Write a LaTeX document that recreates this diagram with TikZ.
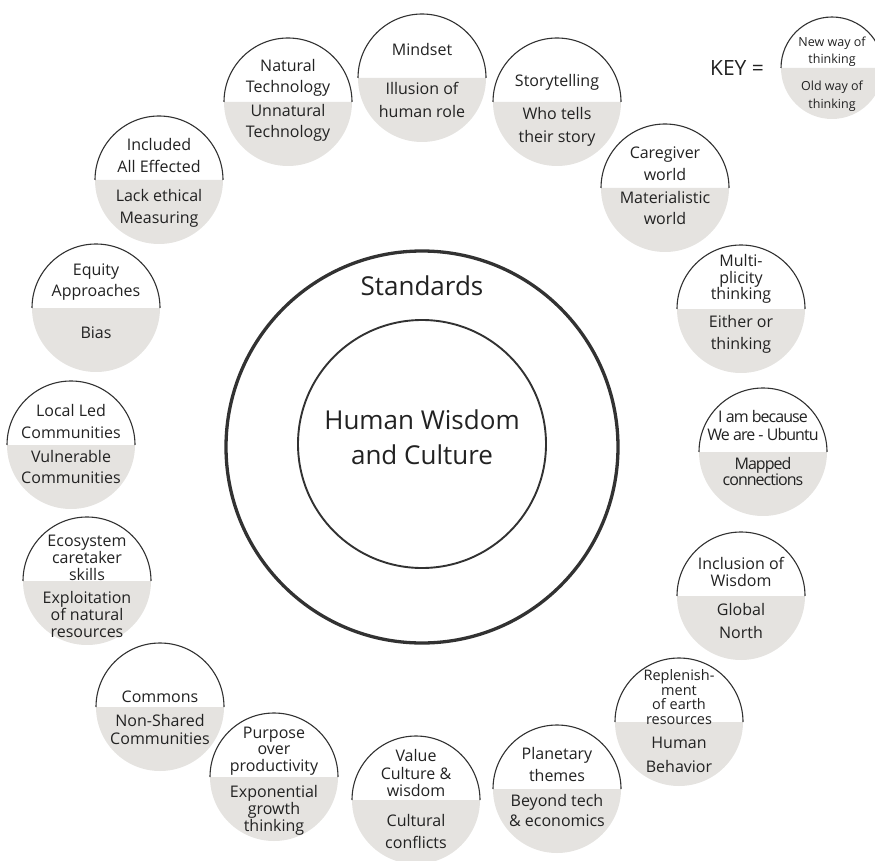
\documentclass[tikz,border=0pt]{standalone}
\usepackage{fontspec}
\setmainfont{Open Sans}
\newfontfamily\narrowsans[LetterSpace=-6]{Open Sans}

\definecolor{ink}{RGB}{34,34,34}
\definecolor{rimgray}{RGB}{50,50,50}
\definecolor{oldfill}{RGB}{229,227,224}

\tikzset{
  ring/.style={draw=rimgray, line width=#1},
  discrim/.style={draw=rimgray, line width=1.1pt},
  discfill/.style={fill=oldfill},
  disctext/.style={text=ink, align=center, inner sep=0pt},
  lead/.style={font=\fontsize{16}{#1}\selectfont},
  smalllead/.style={font=\fontsize{14.5}{#1}\selectfont},
  narrowlead/.style={font=\narrowsans\fontsize{16}{#1}\selectfont},
  keylead/.style={font=\fontsize{12.5}{#1}\selectfont},
  bigtext/.style={text=ink, align=center, inner sep=0pt, font=\fontsize{26}{35}\selectfont},
}

% radius of the small two-tone discs
\def\discr{64}

% #1 name, #2 x, #3 y, #4 style of upper text, #5 upper text, #6 its distance above the split,
% #7 style of lower text, #8 lower text, #9 its distance below the split
\newcommand\ideadisc[9]{%
  \fill[white] (#2+\discr,#3) arc[start angle=0, end angle=-180, radius=\discr] -- cycle;
  \fill[discfill] (#2+\discr,#3) arc[start angle=0, end angle=180, radius=\discr] -- cycle;
  \draw[discrim] (#2+\discr,#3) arc[start angle=0, end angle=-180, radius=\discr];
  \node[disctext, #4] (#1-new) at (#2,#3-#6) {#5};
  \node[disctext, #7] (#1-old) at (#2,#3+#9) {#8};
}

\begin{document}
\begin{tikzpicture}[x=1pt, y=-1pt]
  \useasboundingbox (0,0) rectangle (875,861);

  % central rings
  \draw[ring=3.3pt] (422,447) circle[radius=196];
  \draw[ring=1.9pt] (422,444) circle[radius=124];
  \node[bigtext] (standards) at (422,286) {Standards};
  \node[bigtext] (core) at (422,437) {Human Wisdom\\and Culture};

  % ring of discs, clockwise from the top
  \ideadisc{mindset}{422}{78}{lead=22}{Mindset}{28}{lead=23}{Illusion of\\human role}{22}
  \ideadisc{story}{557}{102}{lead=22}{Storytelling}{20}{lead=23}{Who tells\\their story}{24.5}
  \ideadisc{caregiver}{665}{188}{lead=22}{Caregiver\\world}{24}{lead=21}{Materialistic\\world}{20}
  \ideadisc{multi}{741}{309}{lead=16.5}{Multi-\\plicity\\thinking}{30}{lead=22}{Either or\\thinking}{25}
  \ideadisc{ubuntu}{763}{452}{narrowlead=18}{I am because\\We are - Ubuntu}{27}{narrowlead=16}{Mapped\\connections}{19}
  \ideadisc{inclusion}{741}{596}{lead=17}{Inclusion of\\Wisdom}{24.5}{lead=23}{Global\\North}{24.5}
  \ideadisc{replenish}{679}{722}{smalllead=14.5}{Replenish-\\ment\\of earth\\resources}{25}{lead=24}{Human\\Behavior}{33}
  \ideadisc{planetary}{557}{789}{lead=22}{Planetary\\themes}{25}{lead=20}{Beyond tech\\\& economics}{21}
  \ideadisc{value}{416}{800}{lead=17.5}{Value\\Culture \&\\wisdom}{27}{lead=22}{Cultural\\conflicts}{31}
  \ideadisc{purpose}{274}{777}{lead=16.5}{Purpose\\over\\productivity}{26}{lead=17}{Exponential\\growth\\thinking}{33}
  \ideadisc{commons}{160}{707}{lead=18}{Commons}{10}{lead=18}{Non-Shared\\Communities}{22}
  \ideadisc{ecosystem}{87}{581}{lead=17}{Ecosystem\\caretaker\\skills}{23}{lead=17}{Exploitation\\of natural\\resources}{33}
  \ideadisc{local}{71}{445}{lead=22}{Local Led\\Communities}{24}{lead=21}{Vulnerable\\Communities}{21.5}
  \ideadisc{equity}{96}{308}{lead=21}{Equity\\Approaches}{25.5}{lead=21}{Bias}{25}
  \ideadisc{included}{159}{180}{lead=22}{Included\\All Effected}{24}{lead=22}{Lack ethical\\Measuring}{28}
  \ideadisc{natural}{288}{102}{lead=21}{Natural\\Technology}{24.5}{lead=21}{Unnatural\\Technology}{20.5}

  % legend
  \node[text=ink, inner sep=0pt, font=\fontsize{21}{25}\selectfont] (keylabel) at (737,68) {KEY =};
  \def\discr{51}
  \ideadisc{legend}{832}{68}{keylead=17}{New way of\\thinking}{16.5}{keylead=18}{Old way of\\thinking}{28}
\end{tikzpicture}
\end{document}
